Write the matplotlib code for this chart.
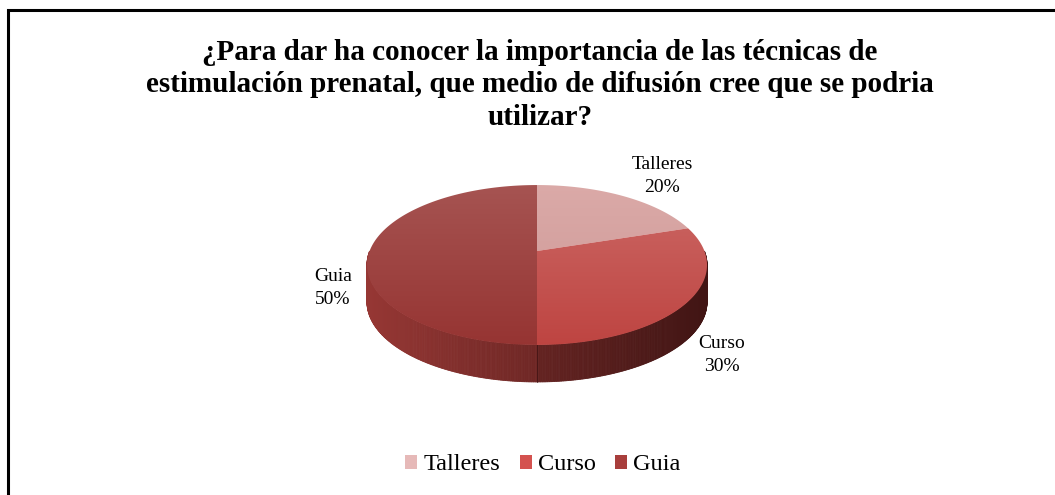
import numpy as np
import matplotlib
matplotlib.use('Agg')
import matplotlib.pyplot as plt
from matplotlib.patches import Polygon, Patch

plt.rcParams['font.family'] = ['Liberation Serif', 'DejaVu Serif']

# data
categories = ['Talleres', 'Curso', 'Guia']
percent = [20, 30, 50]
title = ('¿Para dar ha conocer la importancia de las técnicas de\n'
         'estimulación prenatal, que medio de difusión cree que se podria\n'
         'utilizar?')

# colours (top face gradient top -> bottom, legend)
top_colors = [((219, 170, 168), (204, 150, 148)),
              ((204, 105, 102), (190, 68, 65)),
              ((166, 84, 82), (150, 52, 50))]
legend_colors = ['#E6B9B8', '#D4524F', '#A83E3C']
side_scale = [1.0, 0.9, 1.0]

# pie geometry in pixel space (y grows downward)
cx, cy = 537, 251
rx, ry, k = 167.4, 77.5, 0.175
depth = 37


def proj(phi_deg, dy=0.0):
    phi = np.radians(phi_deg)
    u, v = np.sin(phi), np.cos(phi)
    d = 1 + k * v
    return cx + rx * u / d, cy - ry * v / d + dy


fig = plt.figure(figsize=(10.55, 4.95), dpi=100)
ax = fig.add_axes([0, 0, 1, 1])
ax.set_xlim(0, 1055)
ax.set_ylim(495, 0)
ax.axis('off')

fracs = np.array(percent) / np.sum(percent)
bounds = np.concatenate([[0], np.cumsum(fracs) * 360])

# sides (front half only)
xs_all = [proj(a)[0] for a in np.linspace(0, 360, 721)]
xmin, xmax = min(xs_all), max(xs_all)
c_left = np.array([150, 55, 52]) / 255
c_right = np.array([72, 23, 22]) / 255
for i in range(len(categories)):
    a0, a1 = max(bounds[i], 90), min(bounds[i + 1], 270)
    if a1 <= a0:
        continue
    angs = np.linspace(a0, a1, int((a1 - a0) * 2) + 2)
    for p, q in zip(angs[:-1], angs[1:]):
        x0, y0 = proj(p)
        x1, y1 = proj(q)
        t = ((x0 + x1) / 2 - xmin) / (xmax - xmin)
        col = np.clip((c_left * (1 - t) + c_right * t) * side_scale[i], 0, 1)
        ax.add_patch(Polygon([(x0, y0), (x1, y1), (x1, y1 + depth), (x0, y0 + depth)],
                             closed=True, facecolor=col, edgecolor=col, lw=0.6))
    # thin divider at the slice boundary
    for a in (a0, a1):
        if 90 < a < 270:
            xb, yb = proj(a)
            ax.plot([xb, xb], [yb, yb + depth], color='#3a1212', lw=0.6, alpha=0.5)

# top face wedges with vertical gradient
ytop, ybot = proj(0)[1], proj(180)[1]
for i in range(len(categories)):
    angs = np.linspace(bounds[i], bounds[i + 1], 200)
    pts = [(cx, cy)] + [proj(a) for a in angs]
    poly = Polygon(pts, closed=True, facecolor='none', edgecolor='none')
    ax.add_patch(poly)
    c0 = np.array(top_colors[i][0]) / 255
    c1 = np.array(top_colors[i][1]) / 255
    t = np.linspace(0, 1, 256)[:, None, None]
    grad = c0 * (1 - t) + c1 * t
    im = ax.imshow(grad, extent=(xmin - 2, xmax + 2, ybot + 2, ytop - 2),
                   origin='upper', aspect='auto', interpolation='bilinear', zorder=3)
    im.set_clip_path(poly)
ax.set_xlim(0, 1055)
ax.set_ylim(495, 0)

# data labels
label_pos = [(662, 176), (722, 355), (333, 288)]
for (lx, ly), name, p in zip(label_pos, categories, percent):
    ax.text(lx, ly, f'{name}\n{p}%', ha='center', va='center', fontsize=14,
            linespacing=1.5, zorder=5)

# title
ax.text(540, 85, title, ha='center', va='center', fontsize=21, fontweight='bold',
        linespacing=1.28, zorder=5)

# chart area border (left and top edges visible)
ax.plot([8, 8, 1055], [495, 10, 10], color='black', lw=2.2, zorder=6,
        solid_joinstyle='miter')

handles = [Patch(facecolor=c, edgecolor='none') for c in legend_colors]
fig.legend(handles, categories, loc='center', bbox_to_anchor=(543 / 1055, 1 - 465 / 495),
           ncol=3, frameon=False, fontsize=17.5, handlelength=0.5, handleheight=0.5,
           handletextpad=0.25, columnspacing=0.8)

fig.savefig('out.png', dpi=100)
